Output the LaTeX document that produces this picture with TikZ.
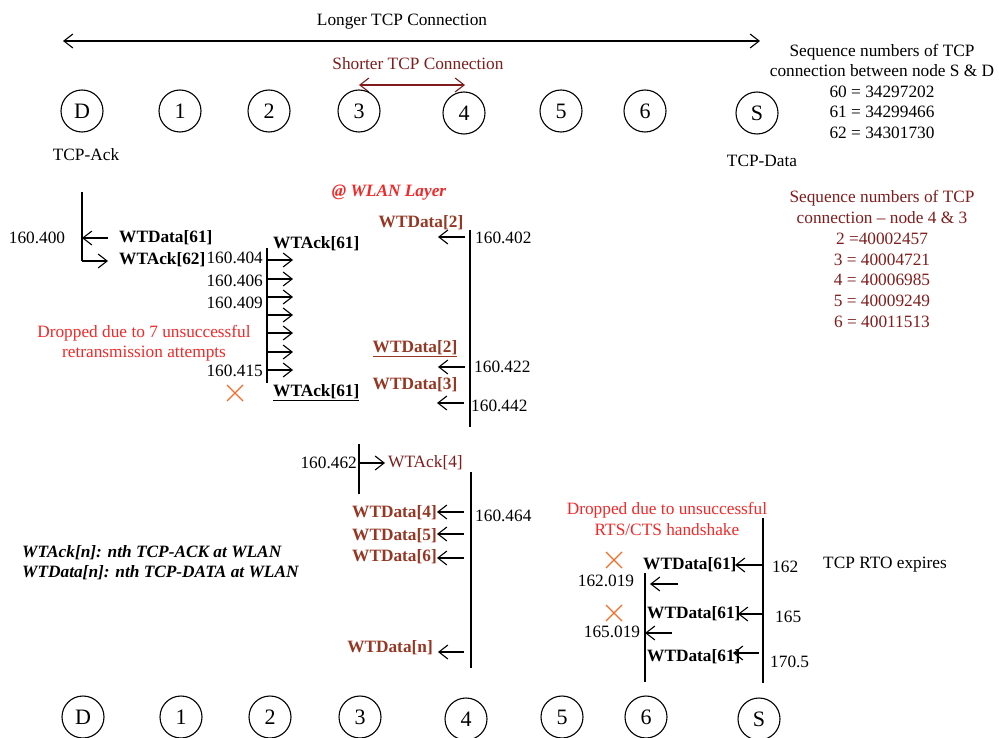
\documentclass[tikz,border=0pt]{standalone}
\usepackage{fontspec}
\setmainfont{Liberation Serif}
\usetikzlibrary{arrows.meta}
\definecolor{dred}{RGB}{128,28,28}
\definecolor{brn}{RGB}{150,55,35}
\definecolor{rd}{RGB}{242,40,40}
\definecolor{org}{RGB}{242,110,40}
\newcommand\fsz{\fontsize{17.3}{20.5}\selectfont}
\tikzset{
  every node/.style={font=\fsz, inner sep=0pt},
  nd/.style={draw, circle, minimum size=42pt, line width=1.1pt, font=\fontsize{22}{24}\selectfont},
  tip/.tip={Straight Barb[length=9pt,width=14pt,line width=1.1pt]},
  ar/.style={-tip, line width=1.1pt},
  dbl/.style={tip-tip, line width=1.1pt},
  tl/.style={line width=1.2pt},
  bw/.style={font=\fsz\bfseries},
  xm/.style={draw=org, line width=1.4pt},
}
\begin{document}
\begin{tikzpicture}[x=1pt,y=-1pt]
\useasboundingbox (0,0) rectangle (999,738);

% connections
\node (longlbl) at (402,22) {Longer TCP Connection};
\coordinate (lA) at (63,41); \coordinate (lB) at (760,41);
\draw[dbl] (lA) -- (lB);
\node[dred] (shortlbl) at (418,63.5) {Shorter TCP Connection};
\coordinate (sA) at (359,85); \coordinate (sB) at (465,85);
\draw[dbl, dred] (sA) -- (sB);

% top nodes
\foreach \n/\x/\y in {D/82/111, 1/180/111, 2/269/111, 3/359/111, 4/464/113, 5/561/111, 6/645/111, S/757/113}
  \node[nd] (t\n) at (\x,\y) {\n};
% bottom nodes
\foreach \n/\x/\y in {D/83/717, 1/181/717, 2/270/717, 3/360/717, 4/466/719, 5/562/717, 6/646/717, S/759/719}
  \node[nd] (b\n) at (\x,\y) {\n};

\node (tcpack) at (86,155) {TCP-Ack};
\node (tcpdata) at (762,161) {TCP-Data};

\node[align=center] (seq1) at (882,91) {Sequence numbers of TCP\\connection between node S \& D\\60 = 34297202\\61 = 34299466\\62 = 34301730};
\node[align=center, dred, font=\fontsize{17.3}{20.8}\selectfont] (seq2) at (882,259) {Sequence numbers of TCP\\connection -- node 4 \& 3\\2 =40002457\\3 = 40004721\\4 = 40006985\\5 = 40009249\\6 = 40011513};

\node[rd, font=\fsz\bfseries\itshape] (wlan) at (389,193) {@ WLAN Layer};

% left group (node D)
\draw[tl] (82,192) -- (82,261);
\draw[ar] (82,261) -- (108,261);
\draw[ar] (108,238) -- (82,238);
\node (t400) at (37,238) {160.400};
\node[bw, anchor=west] (wd61a) at (119,238) {WTData[61]};
\node[bw, anchor=west] (wa62) at (119,260) {WTAck[62]};

% node 2 group
\draw[tl] (267,248) -- (267,383);
\foreach \y in {260,279,297,315,333,352,370}
  \draw[ar] (267,\y) -- (293,\y);
\node[anchor=east] (t404) at (263,258) {160.404};
\node[anchor=east] (t406) at (263,281) {160.406};
\node[anchor=east] (t409) at (263,303) {160.409};
\node[anchor=east] (t415) at (263,371) {160.415};
\node[bw, anchor=west] (wa61a) at (273,244) {WTAck[61]};
\node[rd, align=center] (drop1) at (144,343) {Dropped due to 7 unsuccessful\\retransmission attempts};
\draw[xm] (227,385) -- (243,401) (227,401) -- (243,385);
\node[bw, anchor=west] (wa61b) at (273,393) {\underline{WTAck[61]}};

% node 4 group (upper)
\draw[tl] (470,230) -- (470,427);
\draw[ar] (465,237) -- (438,237);
\node[bw, brn] (wd2a) at (421,223) {WTData[2]};
\node[anchor=west] (t402) at (475,238) {160.402};
\node[bw, brn] (wd2b) at (415,349) {\underline{WTData[2]}};
\draw[ar] (465,367) -- (438,367);
\node[anchor=west] (t422) at (474,367) {160.422};
\node[bw, brn] (wd3) at (415,385) {WTData[3]};
\draw[ar] (464,403) -- (437,403);
\node[anchor=west] (t442) at (471,406) {160.442};

% node 3 group
\draw[tl] (359,444) -- (359,494);
\draw[ar] (359,463) -- (385,463);
\node[anchor=east] (t462) at (357,463) {160.462};
\node[dred, anchor=west] (wa4) at (388,463) {WTAck[4]};

% node 4 group (lower)
\draw[tl] (471,472) -- (471,668);
\foreach \y in {512,534,558}
  \draw[ar] (464,\y) -- (437,\y);
\node[bw, brn, anchor=east] (wd4) at (437,513) {WTData[4]};
\node[bw, brn, anchor=east] (wd5) at (437,536) {WTData[5]};
\node[bw, brn, anchor=east] (wd6) at (437,557) {WTData[6]};
\node[anchor=west] (t464) at (475,516) {160.464};
\node[bw, brn, anchor=east] (wdn) at (433,648) {WTData[n]};
\draw[ar] (464,652) -- (438,652);

% legend
\node[anchor=west, font=\fsz\bfseries\itshape] (leg1) at (22,553) {WTAck[n]: nth TCP-ACK at WLAN};
\node[anchor=west, font=\fsz\bfseries\itshape] (leg2) at (22,573) {WTData[n]: nth TCP-DATA at WLAN};

% node S / 6 group
\node[rd, align=center] (drop2) at (667,519) {Dropped due to unsuccessful\\RTS/CTS handshake};
\draw[tl] (763,518) -- (763,683);
\draw[ar] (763,565) -- (735,565);
\draw[ar] (763,614) -- (738,614);
\draw[ar] (759,653) -- (733,653);
\node[anchor=west] (t162) at (772,567) {162};
\node[anchor=west] (t165) at (775,617) {165};
\node[anchor=west] (t170) at (770,662) {170.5};
\node (rto) at (885,565) {TCP RTO expires};
\node[bw, anchor=west] (wd61b) at (643,565) {WTData[61]};
\node[bw, anchor=west] (wd61c) at (647,614) {WTData[61]};
\node[bw, anchor=west] (wd61d) at (647,657) {WTData[61]};
\draw[tl] (645,573) -- (645,682);
\draw[ar] (678,584) -- (650,584);
\draw[ar] (672,633) -- (645,633);
\node (t162b) at (606,581) {162.019};
\node (t165b) at (612,632) {165.019};
\draw[xm] (606,552) -- (622,568) (606,568) -- (622,552);
\draw[xm] (606,605) -- (622,621) (606,621) -- (622,605);
\end{tikzpicture}
\end{document}
